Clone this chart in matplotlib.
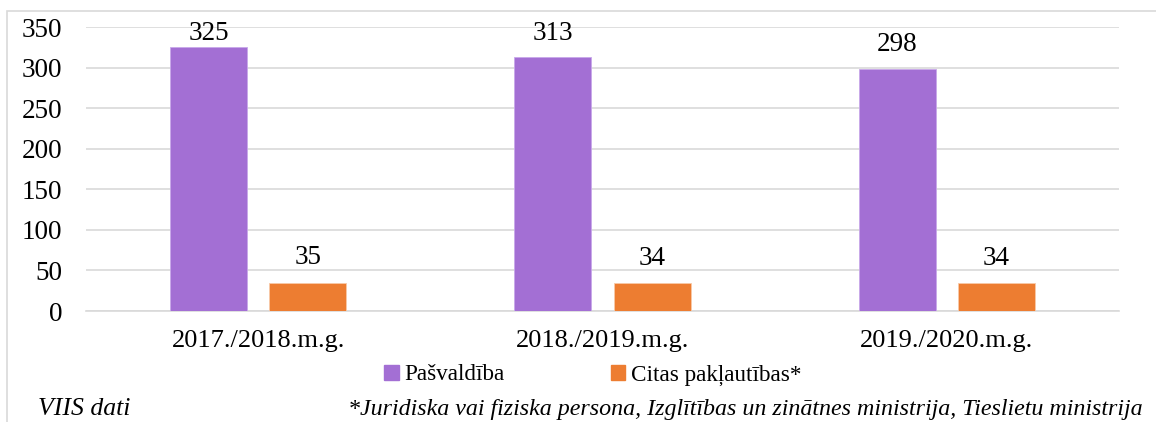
import numpy as np
import matplotlib.pyplot as plt
from matplotlib.patches import Rectangle, Patch

years = ['2017./2018.m.g.', '2018./2019.m.g.', '2019./2020.m.g.']
pasvaldiba = [325, 313, 298]
citas = [35, 34, 34]

purple = '#A36FD4'
orange = '#ED7D31'
grid_c = '#D9D9D9'

plt.rcParams['font.family'] = ['Liberation Serif', 'DejaVu Serif']

fig = plt.figure(figsize=(11.56, 4.22), dpi=100)
ax = fig.add_axes([0.0744, 0.263, 0.8936, 0.673])

x = np.arange(len(years))
w = 0.224
off = 0.144
b1 = ax.bar(x - off, pasvaldiba, w, color=purple, edgecolor='#C8A8EA', linewidth=0.6, zorder=3)
b2 = ax.bar(x + off, citas, w, color=orange, edgecolor='#F8C9A8', linewidth=0.6, zorder=3)

# etiķetes virs stabiņiem, augšā tās nedrīkst iziet ārpus laukuma
for bars in (b1, b2):
    for r in bars:
        h = r.get_height()
        ax.text(r.get_x() + r.get_width() / 2, min(h + 30.5, 342.5), str(int(h)),
                ha='center', va='center', fontsize=19.5, color='black', zorder=4)

ax.set_xlim(-0.5, 2.5)
ax.set_ylim(0, 350)
ax.set_yticks(range(0, 351, 50))
ax.set_xticks(x)
ax.set_xticklabels(years)
ax.tick_params(axis='both', length=0, labelsize=19.5, colors='black')
ax.tick_params(axis='x', labelsize=19)
ax.tick_params(axis='y', pad=17)
ax.tick_params(axis='x', pad=14)
ax.grid(axis='y', color=grid_c, linewidth=1.2, zorder=0)
for s in ('top', 'right', 'left'):
    ax.spines[s].set_visible(False)
ax.spines['bottom'].set_color(grid_c)
ax.spines['bottom'].set_linewidth(1.2)

handles = [Patch(color=purple, label='Pašvaldība'), Patch(color=orange, label='Citas pakļautības*')]
fig.legend(handles=handles, loc='center', bbox_to_anchor=(0.513, 1 - 375 / 422), ncol=2, frameon=False,
           fontsize=16.7, handlelength=0.61, handleheight=0.61, handletextpad=0.25, columnspacing=4.6,
           borderpad=0)

fig.text(38 / 1156, 1 - 409 / 422, 'VIIS dati', style='italic', fontsize=18.5, va='center', ha='left')
fig.text(1143 / 1156, 1 - 410 / 422,
         '*Juridiska vai fiziska persona, Izglītības un zinātnes ministrija, Tieslietu ministrija',
         style='italic', fontsize=17.3, va='center', ha='right')

fig.add_artist(Rectangle((7 / 1156, -0.1), 1.2, 1.1 - 11 / 422, fill=False,
                         edgecolor=grid_c, linewidth=1.2, transform=fig.transFigure))

fig.savefig('out.png', dpi=100)
